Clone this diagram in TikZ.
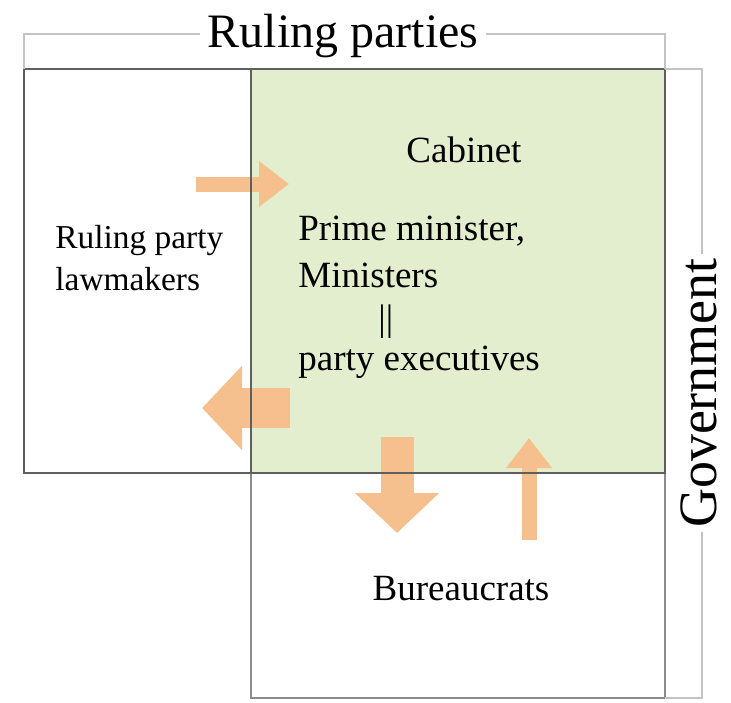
\documentclass[tikz,border=0pt]{standalone}
\usepackage{fontspec}
\setmainfont{Liberation Serif}
\usetikzlibrary{arrows.meta}

\definecolor{cabinetgreen}{RGB}{226,238,205}
\definecolor{flowor}{RGB}{246,192,142}
\definecolor{boxline}{RGB}{95,95,95}
\definecolor{lowline}{RGB}{140,140,140}
\definecolor{bracketline}{RGB}{195,195,195}

\tikzset{
  boxedge/.style={draw=boxline, line width=1pt},
  bracket/.style={draw=bracketline, line width=0.9pt},
  thinflow/.style={draw=flowor, line width=7.5pt, -{Triangle[length=15pt,width=22pt]}},
  thickflow/.style={draw=flowor, line width=#1, -{Triangle[length=20pt,width=41pt]}},
  txt/.style={inner sep=0pt, font=\fontsize{18.5}{22}\selectfont},
  smalltxt/.style={inner sep=0pt, font=\fontsize{16.7}{20}\selectfont},
  headtxt/.style={inner xsep=3.5pt, inner ysep=0pt, font=\fontsize{24}{28}\selectfont},
}

\begin{document}
\begin{tikzpicture}[x=0.5pt,y=-0.5pt]
    \useasboundingbox (0,0) rectangle (731,702);

    % cabinet area
    \fill[cabinetgreen] (251,69) rectangle (665,473);

    % flows
    \coordinate (inS) at (196,184);
    \coordinate (inE) at (289,184);
    \coordinate (backS) at (290,408);
    \coordinate (backE) at (202,408);
    \coordinate (downS) at (397,437);
    \coordinate (downE) at (397,533);
    \coordinate (upS) at (529,540);
    \coordinate (upE) at (529,438);
    \draw[thinflow] (inS) -- (inE);
    \draw[thickflow=20pt] (backS) -- (backE);
    \draw[thickflow=16.5pt] (downS) -- (downE);
    \draw[thinflow] (upS) -- (upE);

    % boxes
    \draw[lowline, line width=1pt] (251,473) -- (251,698) -- (665,698) -- (665,473);
    \draw[boxedge] (24,69) rectangle (665,473);
    \draw[boxedge] (251,69) -- (251,473);

    % texts
    \node[smalltxt, anchor=base west] (rpl1) at (55,248) {Ruling party};
    \node[smalltxt, anchor=base west] (rpl2) at (55,290) {lawmakers};
    \node[txt, anchor=base west] (cab) at (406,162) {Cabinet};
    \node[txt, anchor=base west] (pm) at (298,240) {Prime minister,};
    \node[txt, anchor=base west] (mins) at (298,287) {Ministers};
    \node[txt, anchor=base west] (eq) at (378,330) {||};
    \node[txt, anchor=base west] (exec) at (298,370) {party executives};
    \node[txt, anchor=base] (bur) at (461,600) {Bureaucrats};

    % brackets
    \node[headtxt, anchor=base] (rp) at (343,47) {Ruling parties};
    \coordinate (rpL) at (24,34);
    \coordinate (rpR) at (665,34);
    \draw[bracket] (24,69) -- (rpL) -- (rpL -| rp.west);
    \draw[bracket] (rp.east |- rpR) -- (rpR) -- (665,69);

    \node[headtxt, inner xsep=2pt, font=\fontsize{27}{30}\selectfont, rotate=90, anchor=base] (gov) at (716,393) {Government};
    \coordinate (gvT) at (702,69);
    \coordinate (gvB) at (702,698);
    \draw[bracket] (665,69) -- (gvT) -- (gvT |- gov.east);
    \draw[bracket] (gvB |- gov.west) -- (gvB) -- (665,698);
\end{tikzpicture}
\end{document}
